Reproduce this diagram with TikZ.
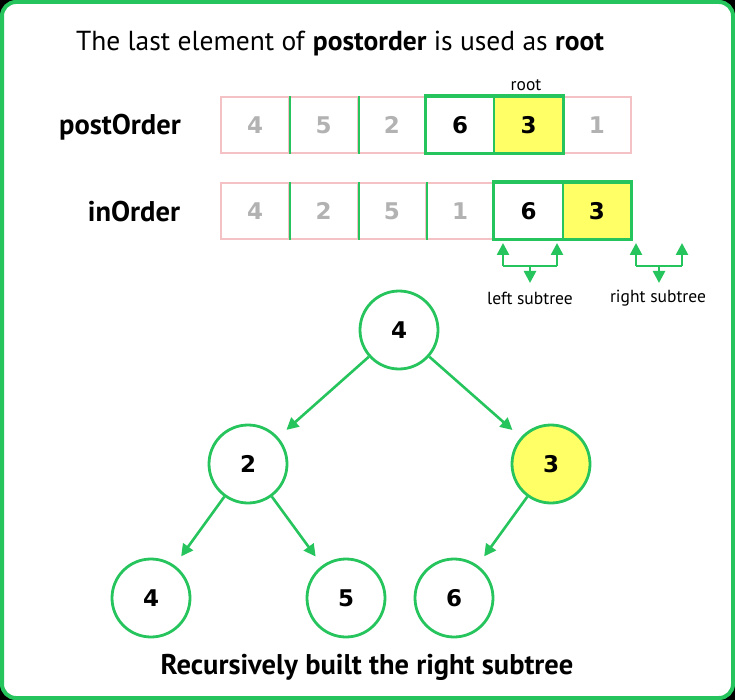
\documentclass[tikz,border=0pt]{standalone}
\usepackage{fontspec}
\setmainfont{PT Sans}
\newfontfamily\digitfont{DejaVu Sans}
\usetikzlibrary{arrows.meta}
\definecolor{gr}{RGB}{38,196,92}
\definecolor{pk}{RGB}{244,194,196}
\definecolor{yl}{RGB}{255,255,102}
\definecolor{gy}{RGB}{178,178,178}
\tikzset{
  cell/.style={draw=pk, line width=2, minimum width=68.3, minimum height=56, inner sep=0,
    font=\digitfont\bfseries\fontsize{23}{26}\selectfont, text=gy},
  hot/.style={text=black},
  tnode/.style={circle, draw=gr, line width=2.8, fill=white, minimum size=78, inner sep=0,
    font=\digitfont\bfseries\fontsize{23}{26}\selectfont},
  arr/.style={draw=gr, line width=2.6, -{Triangle[length=12,width=12]}},
  tarr/.style={arr, shorten >=11},
  brk/.style={draw=gr, line width=2.4},
  small/.style={font=\fontsize{17.5}{20}\selectfont},
  big/.style={font=\bfseries\fontsize{28.5}{32}\selectfont},
}
\begin{document}
\begin{tikzpicture}[x=1pt,y=-1pt]
\useasboundingbox (0,0) rectangle (735,700);
\fill[black] (0,0) rectangle (735,700);
\draw[gr, line width=4, fill=white, rounded corners=14] (2,2) rectangle (733,698);

\node (title) at (340,44) {\fontsize{27.5}{32}\selectfont The last element of \textbf{postorder} is used as \textbf{root}};

% postorder row
\node[big] (lpost) at (120,127) {postOrder};
\node[cell] (p1) at (255.2,125) {4};
\node[cell] (p2) at (323.5,125) {5};
\node[cell] (p3) at (391.8,125) {2};
\node[cell] (p6) at (596.8,125) {1};
\node[cell, draw=gr, hot] (p4) at (460.2,125) {6};
\node[cell, draw=gr, fill=yl, hot] (p5) at (528.5,125) {3};
\draw[gr, line width=2] (p1.north east) -- (p1.south east);
\draw[gr, line width=2] (p2.north east) -- (p2.south east);
\draw[gr, line width=3] (p4.north west) rectangle (p5.south east);
\node[small] (root) at (526,85) {root};

% inorder row
\node[big] (lin) at (134,212) {inOrder};
\node[cell] (i1) at (255.2,211) {4};
\node[cell] (i2) at (323.5,211) {2};
\node[cell] (i3) at (391.8,211) {5};
\node[cell] (i4) at (460.2,211) {1};
\node[cell, draw=gr, hot] (i5) at (528.5,211) {6};
\node[cell, draw=gr, fill=yl, hot] (i6) at (596.8,211) {3};
\draw[gr, line width=2] (i1.north east) -- (i1.south east);
\draw[gr, line width=2] (i2.north east) -- (i2.south east);
\draw[gr, line width=2] (i3.north east) -- (i3.south east);
\draw[gr, line width=3] (i5.north west) rectangle (i6.south east);

% brackets
\coordinate (la) at (503,243);
\coordinate (lb) at (557,243);
\coordinate (lc) at (503,266);
\coordinate (ld) at (557,266);
\coordinate (lm) at (530,266);
\coordinate (le) at (530,283);
\draw[brk] (lc) -- (ld);
\draw[arr] (lc) -- (la);
\draw[arr] (ld) -- (lb);
\draw[arr] (lm) -- (le);
\node[small] (lsub) at (530,298) {left subtree};

\coordinate (ra) at (636,243);
\coordinate (rb) at (682,243);
\coordinate (rc) at (636,266);
\coordinate (rd) at (682,266);
\coordinate (rm) at (659,266);
\coordinate (re) at (659,283);
\draw[brk] (rc) -- (rd);
\draw[arr] (rc) -- (ra);
\draw[arr] (rd) -- (rb);
\draw[arr] (rm) -- (re);
\node[small] (rsub) at (658,298) {right subtree};

% tree
\node[tnode] (t4) at (399,330) {4};
\node[tnode] (t2) at (248,464) {2};
\node[tnode, fill=yl] (t3) at (551,464) {3};
\node[tnode] (l4) at (151,598) {4};
\node[tnode] (l5) at (346,598) {5};
\node[tnode] (l6) at (454,598) {6};
\draw[tarr] (t4) -- (t2);
\draw[tarr] (t4) -- (t3);
\draw[tarr] (t2) -- (l4);
\draw[tarr] (t2) -- (l5);
\draw[tarr] (t3) -- (l6);

\node[big] (foot) at (367,667) {Recursively built the right subtree};
\end{tikzpicture}
\end{document}
